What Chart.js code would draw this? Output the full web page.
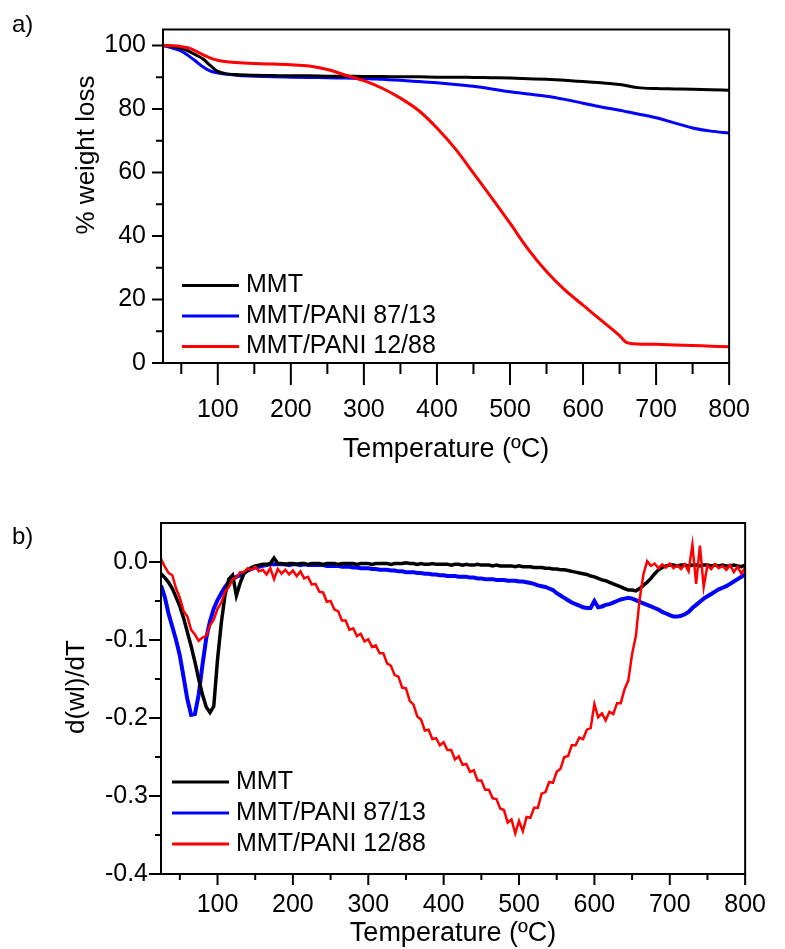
<!DOCTYPE html>
<html>
<head>
<meta charset="utf-8">
<script src="https://cdn.jsdelivr.net/npm/chart.js@4.4.1/dist/chart.umd.min.js"></script>
<style>
  html, body { margin: 0; padding: 0; background: #fff; }
  #wrap { position: relative; width: 785px; height: 949px; }
  canvas { position: absolute; left: 0; }
  #gTGA { top: 0; }
  #gDTG { top: 475px; }
</style>
</head>
<body>
<div id="wrap">
  <canvas id="gTGA" width="785" height="475"></canvas>
  <canvas id="gDTG" width="785" height="474"></canvas>
</div>
<script>
// series
var seriesNames = ["MMT", "MMT/PANI 87/13", "MMT/PANI 12/88"];
var seriesColors = ["#000000", "#0000ff", "#ff0000"];

// a) TGA, % weight
var tempA = [25, 40, 50, 60, 70, 80, 90, 100, 110, 125, 150, 175, 200, 225, 250, 275, 300, 325, 350,
  375, 400, 425, 450, 475, 500, 525, 550, 575, 600, 625, 650, 660, 675, 700, 725, 750, 775, 800];
var tgaMMT = [100, 99.6, 99.1, 98.2, 97.0, 95.7, 93.6, 91.8, 91.1, 90.8, 90.6, 90.5, 90.4, 90.4, 90.3, 90.3, 90.2, 90.2, 90.1,
  90.1, 90.0, 90.0, 89.9, 89.8, 89.7, 89.5, 89.3, 89.0, 88.6, 88.2, 87.7, 87.3, 86.7, 86.4, 86.3, 86.2, 86.0, 85.9];
var tga8713 = [100, 99.0, 98.2, 96.7, 95.0, 93.2, 91.9, 91.3, 91.0, 90.6, 90.3, 90.1, 90.0, 89.9, 89.8, 89.7, 89.6, 89.3, 89.0,
  88.6, 88.2, 87.7, 87.1, 86.3, 85.4, 84.7, 84.0, 83.0, 81.8, 80.6, 79.6, 79.1, 78.4, 77.2, 75.6, 74.0, 73.0, 72.4];
var tga1288 = [100, 99.9, 99.6, 99.2, 98.2, 97.0, 96.0, 95.3, 94.9, 94.6, 94.3, 94.1, 93.9, 93.5, 92.4, 90.6, 88.9, 86.5, 83.4,
  79.5, 74.0, 67.5, 59.8, 52.0, 44.0, 35.8, 28.8, 23.0, 18.2, 13.4, 8.6, 6.4, 6.0, 5.9, 5.7, 5.5, 5.3, 5.1];

// b) DTG, d(wl)/dT
var tempB = [
  25, 30, 35, 40, 45, 50, 55, 60, 65, 70,
  75, 80, 85, 90, 95, 100, 105, 110, 115, 120,
  125, 130, 135, 140, 145, 150, 155, 160, 165, 170,
  175, 180, 185, 190, 195, 200, 205, 210, 215, 220,
  225, 230, 235, 240, 245, 250, 255, 260, 265, 270,
  275, 280, 285, 290, 295, 300, 305, 310, 315, 320,
  325, 330, 335, 340, 345, 350, 355, 360, 365, 370,
  375, 380, 385, 390, 395, 400, 405, 410, 415, 420,
  425, 430, 435, 440, 445, 450, 455, 460, 465, 470,
  475, 480, 485, 490, 495, 500, 505, 510, 515, 520,
  525, 530, 535, 540, 545, 550, 555, 560, 565, 570,
  575, 580, 585, 590, 595, 600, 605, 610, 615, 620,
  625, 630, 635, 640, 645, 650, 655, 660, 665, 670,
  675, 680, 685, 690, 695, 700, 705, 710, 715, 720,
  725, 730, 735, 740, 745, 750, 755, 760, 765, 770,
  775, 780, 785, 790, 795, 800];
var dtgMMT = [
  -0.015, -0.020, -0.026, -0.034, -0.045, -0.057, -0.072, -0.090, -0.108, -0.128,
  -0.150, -0.170, -0.186, -0.193, -0.185, -0.125, -0.078, -0.042, -0.022, -0.017,
  -0.043, -0.027, -0.015, -0.010, -0.007, -0.005, -0.004, -0.003, -0.003, -0.002,
  0.005, -0.002, -0.002, -0.003, -0.002, -0.002, -0.003, -0.002, -0.002, -0.003,
  -0.002, -0.002, -0.002, -0.003, -0.002, -0.002, -0.002, -0.003, -0.002, -0.002,
  -0.002, -0.002, -0.003, -0.002, -0.002, -0.002, -0.003, -0.002, -0.002, -0.002,
  -0.002, -0.003, -0.002, -0.002, -0.002, -0.001, -0.002, -0.002, -0.003, -0.002,
  -0.003, -0.003, -0.002, -0.003, -0.003, -0.003, -0.003, -0.004, -0.003, -0.003,
  -0.004, -0.003, -0.004, -0.004, -0.003, -0.004, -0.004, -0.004, -0.005, -0.004,
  -0.005, -0.005, -0.005, -0.005, -0.006, -0.005, -0.006, -0.006, -0.006, -0.007,
  -0.007, -0.007, -0.008, -0.008, -0.009, -0.009, -0.010, -0.010, -0.011, -0.012,
  -0.013, -0.014, -0.015, -0.016, -0.018, -0.019, -0.021, -0.023, -0.024, -0.026,
  -0.028, -0.030, -0.032, -0.034, -0.036, -0.036, -0.037, -0.034, -0.030, -0.026,
  -0.021, -0.015, -0.010, -0.007, -0.005, -0.004, -0.004, -0.005, -0.004, -0.004,
  -0.005, -0.004, -0.004, -0.005, -0.004, -0.004, -0.005, -0.004, -0.005, -0.004,
  -0.005, -0.005, -0.004, -0.005, -0.006, -0.004];
var dtg8713 = [
  -0.030, -0.045, -0.066, -0.083, -0.100, -0.120, -0.148, -0.176, -0.196, -0.195,
  -0.170, -0.132, -0.098, -0.076, -0.060, -0.049, -0.040, -0.032, -0.026, -0.022,
  -0.019, -0.017, -0.014, -0.011, -0.009, -0.007, -0.006, -0.005, -0.004, -0.003,
  -0.003, -0.003, -0.003, -0.003, -0.004, -0.003, -0.003, -0.004, -0.003, -0.004,
  -0.004, -0.004, -0.004, -0.004, -0.005, -0.005, -0.005, -0.005, -0.006, -0.006,
  -0.006, -0.007, -0.007, -0.008, -0.008, -0.008, -0.009, -0.009, -0.010, -0.010,
  -0.010, -0.011, -0.011, -0.012, -0.012, -0.013, -0.013, -0.013, -0.014, -0.014,
  -0.015, -0.015, -0.016, -0.016, -0.017, -0.017, -0.018, -0.018, -0.018, -0.019,
  -0.019, -0.019, -0.020, -0.020, -0.021, -0.021, -0.022, -0.022, -0.022, -0.023,
  -0.023, -0.023, -0.024, -0.024, -0.024, -0.025, -0.025, -0.026, -0.027, -0.028,
  -0.030, -0.031, -0.032, -0.034, -0.036, -0.040, -0.043, -0.046, -0.049, -0.052,
  -0.054, -0.056, -0.058, -0.059, -0.059, -0.050, -0.058, -0.057, -0.055, -0.054,
  -0.052, -0.050, -0.048, -0.047, -0.046, -0.047, -0.049, -0.051, -0.053, -0.055,
  -0.057, -0.059, -0.061, -0.064, -0.066, -0.068, -0.070, -0.070, -0.069, -0.067,
  -0.064, -0.059, -0.055, -0.051, -0.047, -0.044, -0.041, -0.038, -0.035, -0.033,
  -0.031, -0.028, -0.025, -0.022, -0.019, -0.016];
var dtg1288 = [
  0.004, -0.006, -0.014, -0.017, -0.034, -0.046, -0.063, -0.070, -0.087, -0.093,
  -0.101, -0.097, -0.095, -0.081, -0.074, -0.060, -0.052, -0.038, -0.032, -0.022,
  -0.020, -0.013, -0.013, -0.008, -0.010, -0.006, -0.012, -0.010, -0.016, -0.008,
  -0.022, -0.009, -0.015, -0.010, -0.016, -0.011, -0.018, -0.012, -0.021, -0.019,
  -0.029, -0.028, -0.038, -0.039, -0.051, -0.050, -0.061, -0.063, -0.075, -0.075,
  -0.087, -0.085, -0.095, -0.092, -0.102, -0.099, -0.109, -0.107, -0.117, -0.117,
  -0.130, -0.133, -0.145, -0.147, -0.161, -0.162, -0.178, -0.183, -0.198, -0.202,
  -0.216, -0.215, -0.227, -0.226, -0.235, -0.231, -0.241, -0.241, -0.253, -0.249,
  -0.260, -0.259, -0.269, -0.267, -0.280, -0.280, -0.292, -0.292, -0.303, -0.304,
  -0.316, -0.318, -0.334, -0.330, -0.348, -0.332, -0.345, -0.327, -0.328, -0.315,
  -0.315, -0.297, -0.295, -0.282, -0.283, -0.269, -0.265, -0.250, -0.249, -0.235,
  -0.235, -0.225, -0.227, -0.215, -0.213, -0.182, -0.199, -0.194, -0.203, -0.192,
  -0.195, -0.181, -0.181, -0.163, -0.152, -0.118, -0.095, -0.048, -0.016, 0.001,
  -0.005, -0.002, -0.008, -0.003, -0.007, -0.002, -0.008, -0.004, -0.009, -0.003,
  -0.012, 0.022, -0.028, 0.021, -0.032, -0.004, -0.009, -0.003, -0.008, -0.005,
  -0.010, -0.004, -0.013, -0.006, -0.015, -0.007];

// ticks
var xMajor = [100, 200, 300, 400, 500, 600, 700, 800];
var xMinor = [50, 150, 250, 350, 450, 550, 650, 750];
var yMajorA = [0, 20, 40, 60, 80, 100];
var yMinorA = [10, 30, 50, 70, 90];
var yMajorB = [-0.4, -0.3, -0.2, -0.1, 0];
var yMinorB = [-0.35, -0.25, -0.15, -0.05];

var FONT = 'Arial, "Liberation Sans", sans-serif';
Chart.defaults.font.family = FONT;
Chart.defaults.color = '#000';

function pts(xs, ys) {
  return xs.map(function (t, i) { return { x: t, y: ys[i] }; });
}

// frame, outward tick marks, legend inside plot, panel letter, y title
var deco = {
  id: 'deco',
  afterDraw: function (chart, args, o) {
    var ctx = chart.ctx, a = chart.chartArea, x = chart.scales.x, y = chart.scales.y;
    ctx.save();
    ctx.strokeStyle = '#000';
    ctx.lineWidth = 2;
    ctx.strokeRect(a.left, a.top, a.right - a.left, a.bottom - a.top);
    ctx.beginPath();
    function xt(vals, len) {
      vals.forEach(function (v) { var p = x.getPixelForValue(v); ctx.moveTo(p, a.bottom); ctx.lineTo(p, a.bottom + len); });
    }
    function yt(vals, len) {
      vals.forEach(function (v) { var p = y.getPixelForValue(v); ctx.moveTo(a.left, p); ctx.lineTo(a.left - len, p); });
    }
    xt(xMajor, o.xLen[0]); xt(xMinor, o.xLen[1]);
    yt(o.yMajor, o.yLen[0]); yt(o.yMinor, o.yLen[1]);
    ctx.stroke();

    ctx.font = '25px ' + FONT;
    ctx.textBaseline = 'middle';
    ctx.fillStyle = '#000';
    chart.data.datasets.forEach(function (ds, i) {
      var ly = a.top + o.legY + i * o.legGap, lx = a.left + o.legX;
      ctx.beginPath();
      ctx.strokeStyle = ds.borderColor;
      ctx.lineWidth = 3;
      ctx.moveTo(lx, ly); ctx.lineTo(lx + 57, ly);
      ctx.stroke();
      ctx.fillText(ds.label, lx + 64, ly);
    });
    ctx.font = '24px ' + FONT;
    ctx.fillText(o.panel, 12, o.panelY);

    ctx.font = '26px ' + FONT;
    ctx.textAlign = 'center';
    ctx.translate(o.yTitle[0], o.yTitle[1]);
    ctx.rotate(-Math.PI / 2);
    ctx.fillText(o.yText, 0, 0);
    ctx.restore();
  }
};

function lineSet(i, data, w, order) {
  return {
    label: seriesNames[i], data: data, borderColor: seriesColors[i],
    borderWidth: w, pointRadius: 0, fill: false, order: order
  };
}

function xScale(h, pad, titlePad) {
  return {
    type: 'linear', min: 25, max: 800,
    grid: { display: false, drawTicks: false }, border: { display: false },
    afterBuildTicks: function (s) { s.ticks = xMajor.map(function (v) { return { value: v }; }); },
    afterFit: function (s) { s.height = h; },
    ticks: { padding: pad, maxRotation: 0, font: { size: 25, lineHeight: 1 } },
    title: { display: true, text: 'Temperature (ºC)', font: { size: 27, lineHeight: 1 }, padding: { top: 0, bottom: titlePad } }
  };
}

new Chart(document.getElementById('gTGA').getContext('2d'), {
  type: 'line',
  data: {
    datasets: [
      lineSet(0, pts(tempA, tgaMMT), 3, 1),
      lineSet(1, pts(tempA, tga8713), 3, 2),
      lineSet(2, pts(tempA, tga1288), 3, 0)
    ]
  },
  options: {
    responsive: false, animation: false,
    cubicInterpolationMode: 'monotone',
    layout: { padding: { top: 12, right: 22, left: 0, bottom: 0 } },
    plugins: {
      legend: { display: false }, tooltip: { enabled: false },
      deco: { xLen: [22, 11], yLen: [11, 7], yMajor: yMajorA, yMinor: yMinorA,
              legX: 19, legY: 256, legGap: 30.5, panel: 'a)', panelY: 25,
              yTitle: [87, 155], yText: '% weight loss' }
    },
    scales: {
      x: xScale(112, 35, 12),
      y: {
        min: 0, max: 105,
        grid: { display: false, drawTicks: false }, border: { display: false },
        afterBuildTicks: function (s) { s.ticks = yMajorA.map(function (v) { return { value: v }; }); },
        afterFit: function (s) { s.width = 163; },
        ticks: { padding: 17, font: { size: 25, lineHeight: 1 } }
      }
    }
  },
  plugins: [deco]
});

new Chart(document.getElementById('gDTG').getContext('2d'), {
  type: 'line',
  data: {
    datasets: [
      lineSet(0, pts(tempB, dtgMMT), 3.5, 1),
      lineSet(1, pts(tempB, dtg8713), 4, 2),
      lineSet(2, pts(tempB, dtg1288), 2.5, 0)
    ]
  },
  options: {
    responsive: false, animation: false,
    layout: { padding: { top: 48, right: 23, left: 0, bottom: 0 } },
    plugins: {
      legend: { display: false }, tooltip: { enabled: false },
      deco: { xLen: [11, 6], yLen: [12, 6], yMajor: yMajorB, yMinor: yMinorB,
              legX: 11, legY: 259, legGap: 31, panel: 'b)', panelY: 62,
              yTitle: [77, 212], yText: 'd(wl)/dT' }
    },
    scales: {
      x: xScale(75, 19, 2),
      y: {
        min: -0.4, max: 0.05,
        grid: { display: false, drawTicks: false }, border: { display: false },
        afterBuildTicks: function (s) { s.ticks = yMajorB.map(function (v) { return { value: v }; }); },
        afterFit: function (s) { s.width = 161; },
        ticks: { padding: 13, font: { size: 25, lineHeight: 1 },
                 callback: function (v) { return v.toFixed(1); } }
      }
    }
  },
  plugins: [deco]
});
</script>
</body>
</html>
